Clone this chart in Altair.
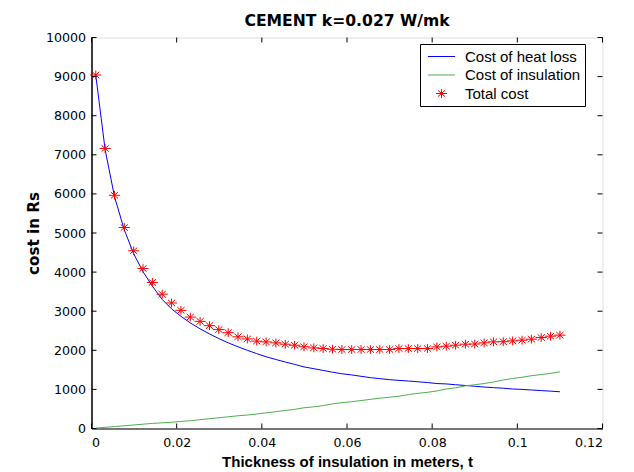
import altair as alt
import pandas as pd

# ---- data ----
thickness = [0.0010, 0.0032, 0.0054, 0.0077, 0.0099, 0.0121, 0.0143, 0.0166, 0.0188, 0.0210,
             0.0232, 0.0255, 0.0277, 0.0299, 0.0321, 0.0344, 0.0366, 0.0388, 0.0410, 0.0433,
             0.0455, 0.0477, 0.0499, 0.0522, 0.0544, 0.0566, 0.0588, 0.0611, 0.0633, 0.0655,
             0.0677, 0.0700, 0.0722, 0.0744, 0.0766, 0.0789, 0.0811, 0.0833, 0.0855, 0.0878,
             0.0900, 0.0922, 0.0944, 0.0967, 0.0989, 0.1011, 0.1033, 0.1056, 0.1078, 0.1100]

heat_loss = [9040, 7130, 5930, 5080, 4470, 4010, 3640, 3300, 3060, 2870,
             2700, 2550, 2420, 2300, 2190, 2090, 2000, 1915, 1835, 1765,
             1700, 1640, 1575, 1530, 1485, 1440, 1400, 1370, 1335, 1300,
             1275, 1250, 1230, 1215, 1195, 1175, 1150, 1140, 1120, 1100,
             1080, 1060, 1045, 1030, 1010, 1000, 985, 970, 955, 940]

insulation = [10, 30, 50, 70, 90, 110, 130, 145, 160, 180,
              200, 225, 250, 275, 300, 325, 345, 370, 400, 430,
              460, 490, 530, 555, 585, 630, 660, 685, 715, 745,
              775, 800, 825, 865, 900, 925, 960, 1010, 1040, 1090,
              1120, 1150, 1190, 1240, 1280, 1310, 1350, 1380, 1410, 1450]

total = [9040, 7160, 5965, 5140, 4545, 4090, 3735, 3435, 3210, 3022,
         2850, 2740, 2630, 2530, 2450, 2345, 2290, 2235, 2215, 2190,
         2156, 2130, 2090, 2062, 2045, 2028, 2020, 2020, 2020, 2020,
         2020, 2020, 2045, 2045, 2045, 2045, 2087, 2105, 2130, 2156,
         2160, 2190, 2216, 2220, 2241, 2258, 2284, 2327, 2361, 2387]

series_names = ["Cost of heat loss", "Cost of insulation", "Total cost"]
series_colors = ["#0000ff", "#4daf4d", "#ff0000"]
x_ticks = [0, 0.02, 0.04, 0.06, 0.08, 0.1, 0.12]
y_ticks = [0, 1000, 2000, 3000, 4000, 5000, 6000, 7000, 8000, 9000, 10000]

W, H = 511, 391

heat_df = pd.DataFrame({"t": thickness, "cost": heat_loss})
ins_df = pd.DataFrame({"t": thickness, "cost": insulation})
total_df = pd.DataFrame({"t": thickness, "cost": total, "series": series_names[2]})
xt_df = pd.DataFrame({"t": x_ticks})
yt_df = pd.DataFrame({"cost": y_ticks})

xs = alt.Scale(domain=[0, 0.12], nice=False, zero=False)
ys = alt.Scale(domain=[0, 10000], nice=False)
star = "M-0.7,0L0.7,0M0,-0.55L0,0.55M-0.45,-0.4L0.45,0.4M-0.45,0.4L0.45,-0.4"
dash = "M-1.7,0L1.7,0"

x_axis = alt.Axis(values=x_ticks, format=".2~g", title="Thickness of insulation in meters, t",
                  grid=False, tickSize=0, labelPadding=8, titlePadding=5,
                  labelFont="DejaVu Sans", labelFontSize=12.6, labelColor="black",
                  titleFont="Liberation Sans", titleFontSize=15, titleFontWeight="bold",
                  titleColor="black", domainColor="black", domainWidth=1.2)
y_axis = alt.Axis(values=y_ticks, format="d", title="cost in Rs",
                  grid=False, tickSize=0, labelPadding=6, titlePadding=4,
                  labelFont="DejaVu Sans", labelFontSize=12.6, labelColor="black",
                  titleFont="DejaVu Sans", titleFontSize=15.2, titleFontWeight="bold",
                  titleColor="black", domainColor="black", domainWidth=1.5)

nb = "\u00a0"
legend = alt.Legend(title=None, orient="none", legendX=328.5, legendY=6.5,
                    strokeColor="black", fillColor="white", padding=4, cornerRadius=0,
                    labelFont="Liberation Sans", labelFontSize=15, labelColor="black",
                    symbolSize=256, symbolStrokeWidth=1, symbolOffset=9, labelOffset=15,
                    rowPadding=1.5, labelExpr=f"datum.label + '{nb * 6}'")

x_enc = alt.X("t:Q", scale=xs, axis=x_axis)
y_enc = alt.Y("cost:Q", scale=ys, axis=y_axis)

heat_line = alt.Chart(heat_df).mark_line(strokeWidth=1, color=series_colors[0]).encode(x=x_enc, y=y_enc)
ins_line = alt.Chart(ins_df).mark_line(strokeWidth=1, color=series_colors[1]).encode(x=x_enc, y=y_enc)

color_enc = alt.Color("series:N", scale=alt.Scale(domain=series_names, range=series_colors),
                      legend=legend)
shape_enc = alt.Shape("series:N", scale=alt.Scale(domain=series_names, range=[dash, dash, star]),
                      legend=legend)

points = alt.Chart(total_df).mark_point(filled=False, size=256, strokeWidth=1, opacity=1).encode(
    x=x_enc, y=y_enc, color=color_enc, shape=shape_enc,
)

tick_style = dict(color="black", strokeWidth=1)
bottom_ticks = alt.Chart(xt_df).mark_rule(**tick_style).encode(
    x=x_enc, y=alt.value(H), y2=alt.value(H - 5))
top_ticks = alt.Chart(xt_df).mark_rule(**tick_style).encode(
    x=x_enc, y=alt.value(0), y2=alt.value(5))
left_ticks = alt.Chart(yt_df).mark_rule(**tick_style).encode(
    y=y_enc, x=alt.value(0), x2=alt.value(5))
right_ticks = alt.Chart(yt_df).mark_rule(**tick_style).encode(
    y=y_enc, x=alt.value(W - 5), x2=alt.value(W))

chart = alt.layer(heat_line, ins_line, points, bottom_ticks, top_ticks, left_ticks, right_ticks).properties(
    width=W, height=H,
    title=alt.Title("CEMENT k=0.027 W/mk", font="DejaVu Sans", fontSize=15.6, frame="group",
                    fontWeight="bold", anchor="middle", offset=2, color="black"),
    autosize=alt.AutoSizeParams(type="none"),
    padding={"left": 83.5, "top": 29.5, "right": 20, "bottom": 43},
).configure_view(stroke="black", strokeWidth=1).configure(background="white")

chart.save("out.html", embed_options={"renderer": "svg", "actions": False})
